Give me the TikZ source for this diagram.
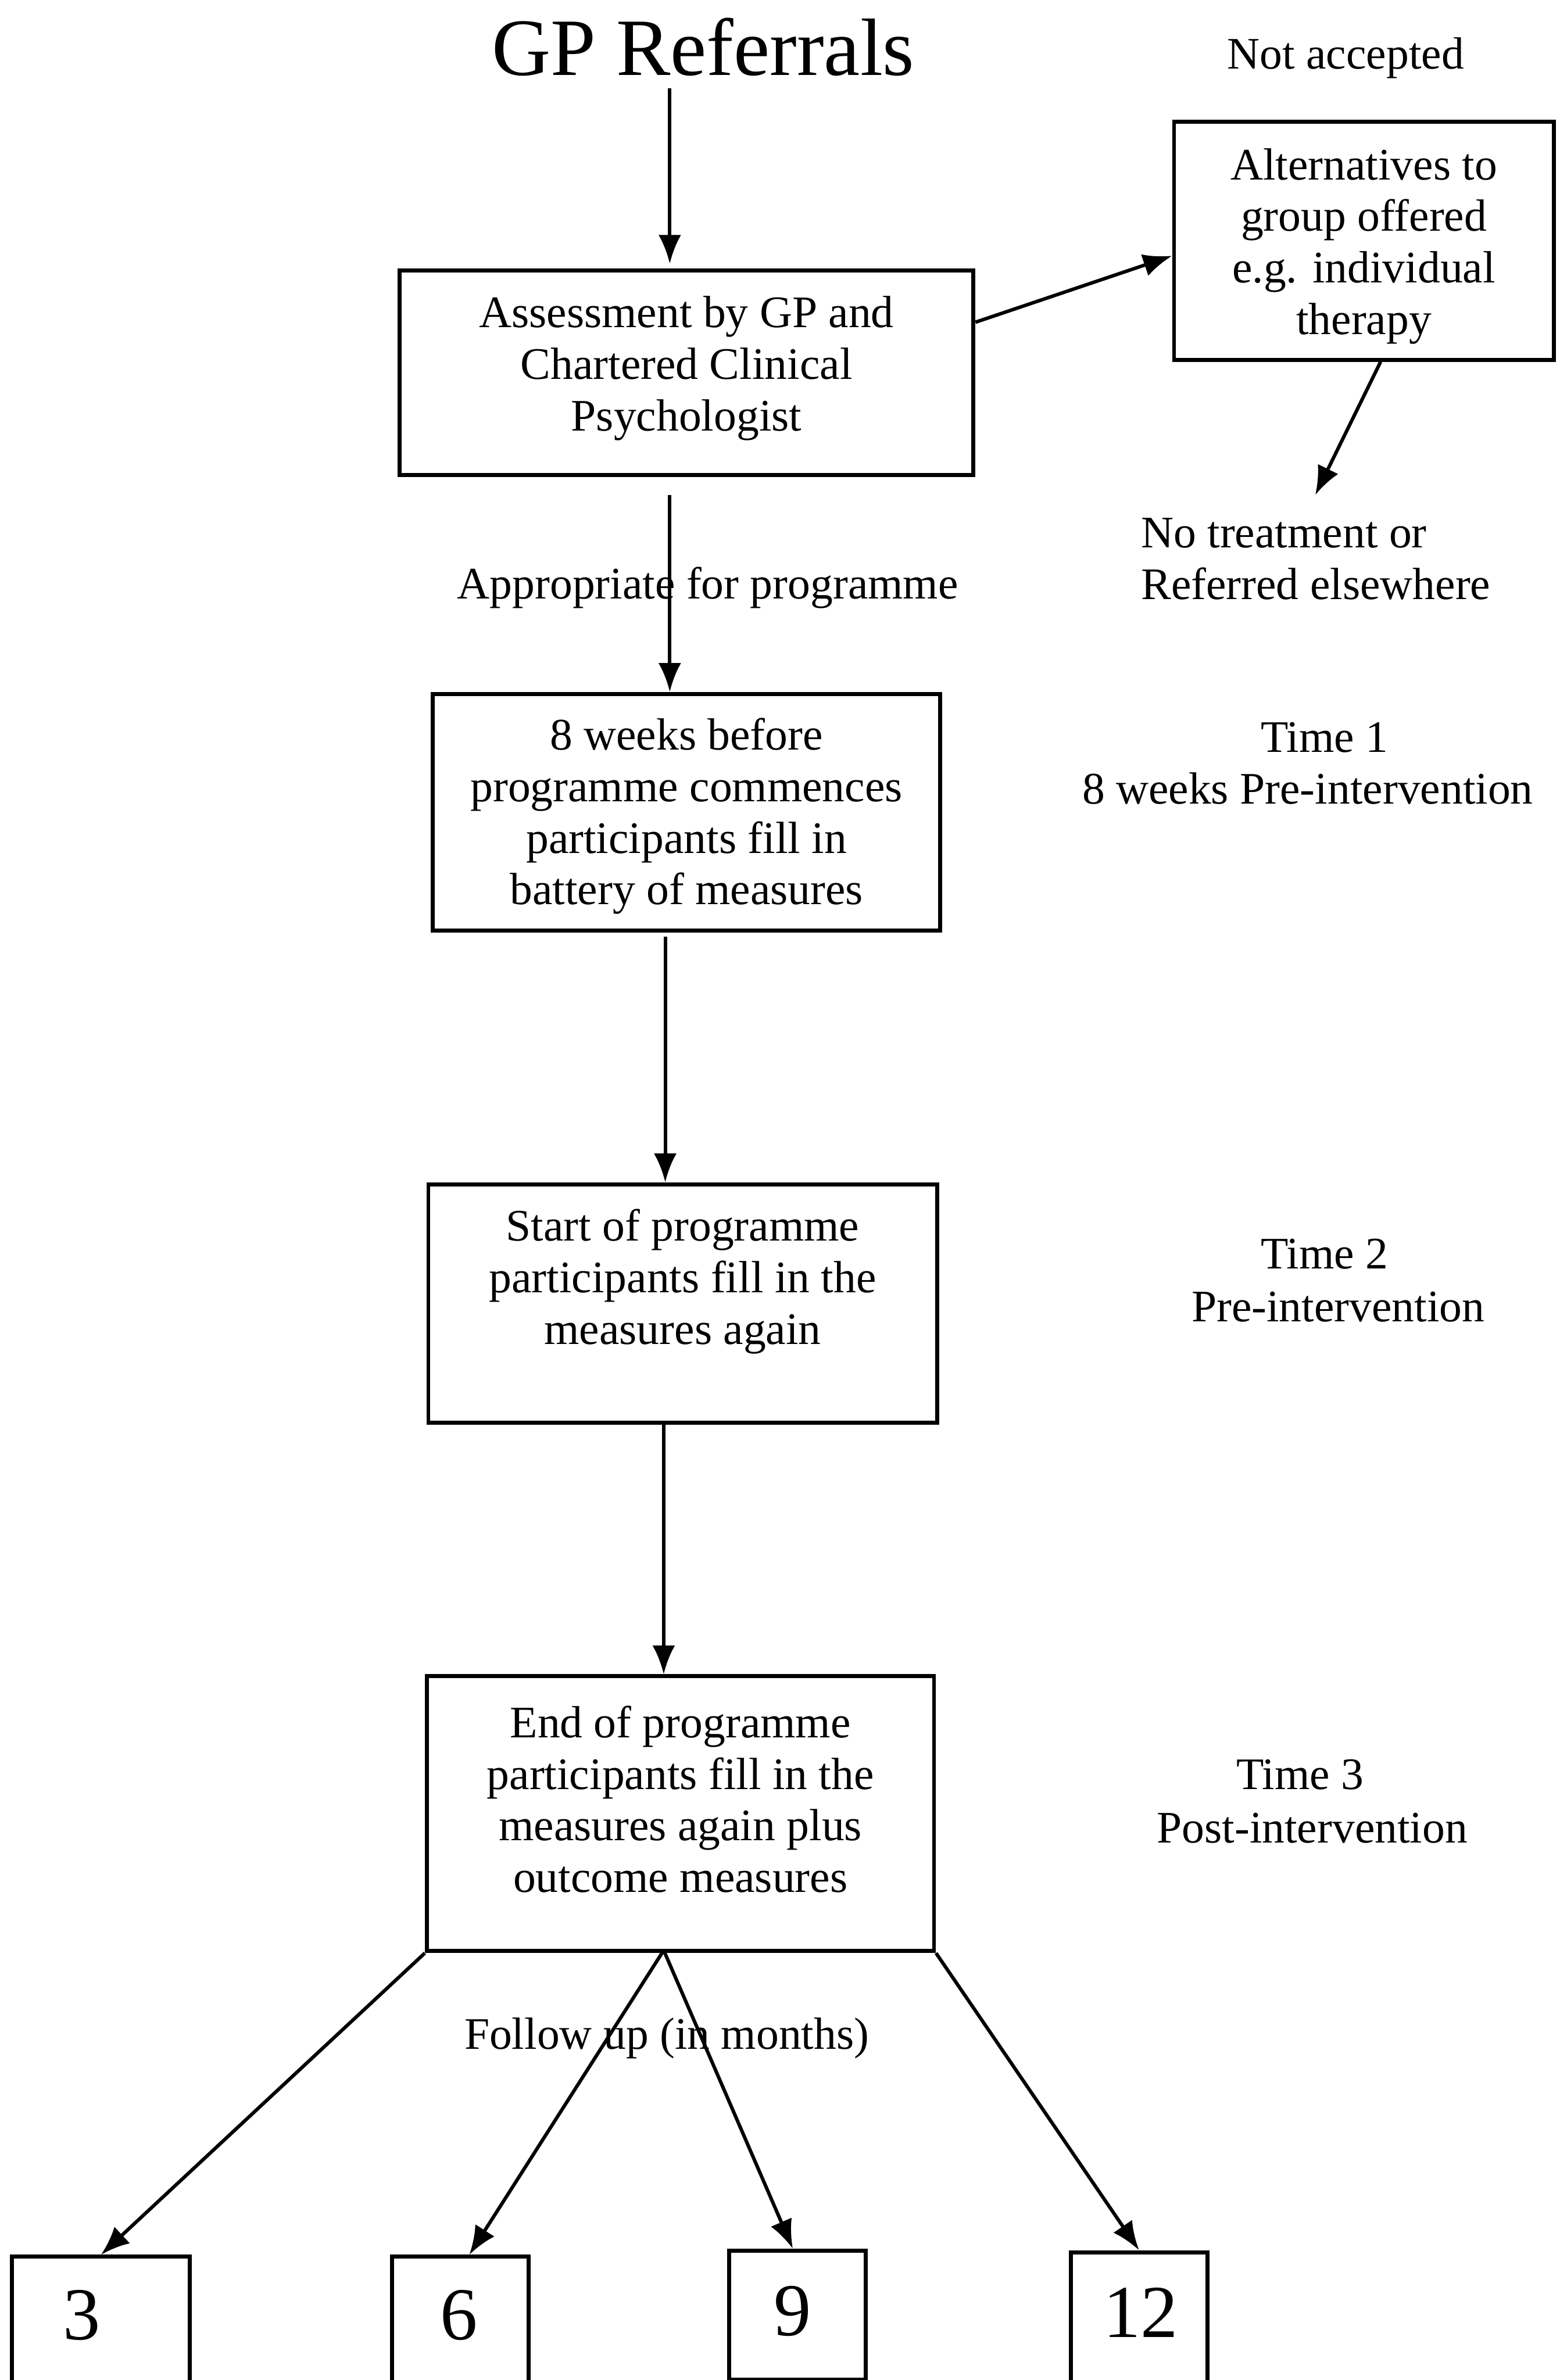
\documentclass[tikz,border=0pt]{standalone}
\usepackage{fontspec}
\setmainfont{Liberation Serif}
\usetikzlibrary{arrows.meta,calc}
\newcommand{\bodyfs}{\fontsize{16.9}{19.35}\selectfont}
\newcommand{\titlefs}{\fontsize{30.5}{36}\selectfont}
\newcommand{\digitfs}{\fontsize{28}{33}\selectfont}
\newcommand{\myshiftdown}[2]{\raisebox{-#1}[\height][\depth]{#2}}
\begin{document}
\begin{tikzpicture}[x=0.02cm,y=-0.02cm,
  box/.style={draw,line width=1.5pt,inner sep=0pt,font=\bodyfs},
  txt/.style={inner sep=0pt,font=\bodyfs,text height=12pt,text depth=4pt,yshift=-0.05cm},
  digit/.style={inner sep=0pt,font=\digitfs},
  arr/.style={line width=1.3pt,-{Latex[length=0.38cm,width=0.3cm]}},
  ln/.style={line width=1.3pt}]
\useasboundingbox (0,0) rectangle (1027,1567.5);
\clip (0,0) rectangle (1027,1567.5);

% titles and side labels
\node[inner sep=0pt,font=\titlefs] (title) at (463,31) {GP Referrals};
\node[txt] (notacc) at (886,36) {Not accepted};
\node[txt] (approp) at (466,385) {Appropriate for programme};
\node[inner sep=0pt,font=\bodyfs,align=left,anchor=west] (nt) at (751,368) {No treatment or\\Referred elsewhere};
\node[txt] (t1a) at (872,486) {Time 1};
\node[txt] (t1b) at (861,520) {8 weeks Pre-intervention};
\node[txt] (t2a) at (872,826) {Time 2};
\node[txt] (t2b) at (881,861) {Pre-intervention};
\node[txt] (t3a) at (856,1169) {Time 3};
\node[txt] (t3b) at (864,1204) {Post-intervention};
\node[txt] (follow) at (439,1340) {Follow up (in months)};

% main boxes
\node[box,minimum width=7.56cm,minimum height=2.7cm] (assess) at (452,245.5)
  {\begin{tabular}{@{}c@{}}Assessment by GP and\\Chartered Clinical\\Psychologist\\[0.1cm]\end{tabular}};
\node[box,minimum width=5.0cm,minimum height=3.14cm] (alt) at (898,158.5)
  {\myshiftdown{0.08cm}{\begin{tabular}{@{}c@{}}Alternatives to\\group offered\\e.g. individual\\therapy\end{tabular}}};
\node[box,minimum width=6.68cm,minimum height=3.12cm] (eight) at (452,535)
  {\myshiftdown{0.06cm}{\begin{tabular}{@{}c@{}}8 weeks before\\programme commences\\participants fill in\\battery of measures\end{tabular}}};
\node[box,minimum width=6.7cm,minimum height=3.14cm] (start) at (449.5,858.5)
  {\begin{tabular}{@{}c@{}}Start of programme\\participants fill in the\\measures again\\[0.56cm]\end{tabular}};
\node[box,minimum width=6.68cm,minimum height=3.62cm] (endb) at (448,1194.5)
  {\begin{tabular}{@{}c@{}}End of programme\\participants fill in the\\measures again plus\\outcome measures\\[0.24cm]\end{tabular}};

% follow-up boxes
\node[box,minimum width=2.34cm,minimum height=2.8cm,anchor=north] (b3) at (66.5,1485) {};
\node[box,minimum width=1.8cm,minimum height=2.8cm,anchor=north] (b6) at (303,1485) {};
\node[box,minimum width=1.8cm,minimum height=1.7cm,anchor=north] (b9) at (525,1481) {};
\node[box,minimum width=1.8cm,minimum height=2.8cm,anchor=north] (b12) at (750,1482) {};
\node[digit] (d3) at (54,1525) {3};
\node[digit] (d6) at (302,1525) {6};
\node[digit] (d9) at (522,1522) {9};
\node[digit] (d12) at (751,1523) {12};

% connectors
\coordinate (g1) at (441,58);
\draw[arr,shorten >=0.06cm] (g1) -- (g1 |- assess.north);
\draw[arr] ($(assess.north east)!0.258!(assess.south east)$) -- ($(alt.north west)!0.5625!(alt.south west)$);
\coordinate (ntip) at (866,326);
\draw[arr] ([xshift=0.22cm]alt.south) -- (ntip);
\coordinate (g2) at (441,326);
\draw[arr] (g2) -- (g2 |- eight.north);
\coordinate (g3) at (438,617);
\draw[arr] (g3) -- (g3 |- start.north);
\coordinate (g4) at (437,937);
\draw[arr] (g4) -- (g4 |- endb.north);
\coordinate (fm) at (437,1284.5);
\draw[arr] (endb.south west) -- (b3.north);
\draw[arr] (fm) -- ([xshift=0.12cm]b6.north);
\draw[arr] (fm) -- ([xshift=-0.06cm]b9.north);
\draw[arr] (endb.south east) -- (b12.north);
\end{tikzpicture}
\end{document}
